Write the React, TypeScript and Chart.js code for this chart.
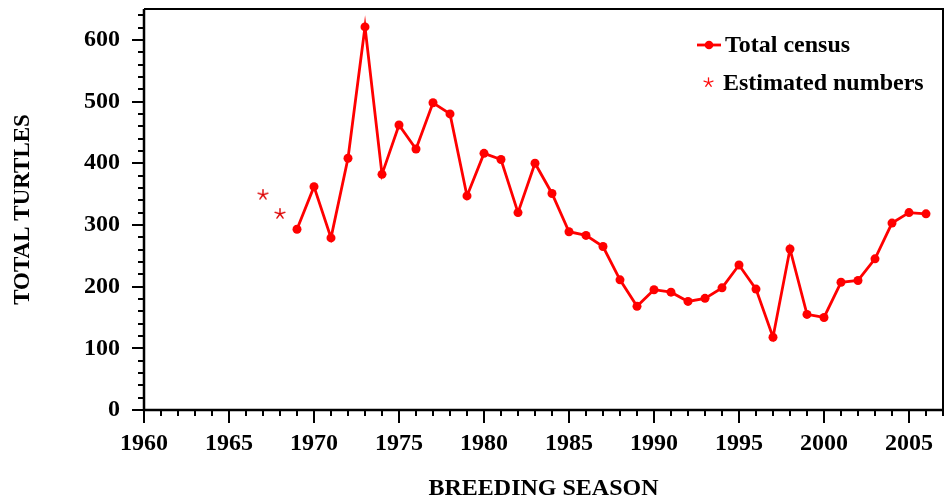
import React, { useEffect, useRef } from "react";
import { Chart, registerables } from "chart.js";

Chart.register(...registerables);

const censusYears = [1969, 1970, 1971, 1972, 1973, 1974, 1975, 1976, 1977, 1978, 1979, 1980, 1981, 1982, 1983, 1984, 1985, 1986, 1987, 1988, 1989, 1990, 1991, 1992, 1993, 1994, 1995, 1996, 1997, 1998, 1999, 2000, 2001, 2002, 2003, 2004, 2005, 2006];
const censusTotals = [293, 362, 279, 408, 621, 382, 462, 423, 498, 480, 347, 416, 406, 320, 400, 351, 289, 283, 265, 211, 168, 195, 191, 176, 181, 198, 235, 196, 118, 261, 155, 150, 207, 210, 245, 303, 320, 318];
const estimatedYears = [1967, 1968];
const estimatedTotals = [349, 318];

const X_MIN = 1960;
const X_MAX = 2007;
const Y_MIN = 0;
const Y_MAX = 650;
const xTickStep = 5;
const yTickStep = 100;
const xMinorStep = 1;
const yMinorStep = 20;

const legendLabels = ["Total census", "Estimated numbers"];
const xTitle = "BREEDING SEASON";
const yTitle = "TOTAL TURTLES";

const FONT = "'Liberation Serif', 'Times New Roman', serif";

function makeStar(color: string, size: number, lw: number): HTMLCanvasElement {
  const c = document.createElement("canvas");
  c.width = size;
  c.height = size;
  const g = c.getContext("2d")!;
  g.strokeStyle = color;
  g.lineWidth = lw;
  g.lineCap = "round";
  const cx = size / 2;
  const cy = size / 2;
  const r = size / 2 - 0.8;
  for (let i = 0; i < 5; i++) {
    const ang = -Math.PI / 2 + (i * 2 * Math.PI) / 5;
    g.beginPath();
    g.moveTo(cx, cy);
    g.lineTo(cx + r * Math.cos(ang), cy + r * Math.sin(ang));
    g.stroke();
  }
  return c;
}

const framePlugin = {
  id: "frameTicks",
  afterDraw(chart: any) {
    const { ctx, chartArea: a, scales } = chart;
    const x = scales.x;
    const y = scales.y;
    ctx.save();
    ctx.strokeStyle = "#000";
    ctx.lineCap = "butt";
    ctx.lineWidth = 2;
    ctx.beginPath();
    ctx.moveTo(a.left, a.top);
    ctx.lineTo(a.right, a.top);
    ctx.lineTo(a.right, a.bottom);
    ctx.stroke();
    ctx.lineWidth = 2.5;
    ctx.beginPath();
    ctx.moveTo(a.left, a.top);
    ctx.lineTo(a.left, a.bottom);
    ctx.lineTo(a.right, a.bottom);
    ctx.stroke();
    ctx.lineWidth = 2;
    for (let v = X_MIN; v <= X_MAX; v += xMinorStep) {
      const px = Math.round(x.getPixelForValue(v));
      const len = v % xTickStep === 0 ? 13 : 6;
      ctx.beginPath();
      ctx.moveTo(px, a.bottom);
      ctx.lineTo(px, a.bottom + len);
      ctx.stroke();
    }
    for (let v = Y_MIN; v <= Y_MAX; v += yMinorStep) {
      const py = Math.round(y.getPixelForValue(v));
      const len = v % yTickStep === 0 ? 12 : 6;
      ctx.beginPath();
      ctx.moveTo(a.left, py);
      ctx.lineTo(a.left - len, py);
      ctx.stroke();
    }
    // legend
    ctx.font = `bold 24px ${FONT}`;
    ctx.textBaseline = "middle";
    ctx.textAlign = "left";
    ctx.strokeStyle = "#ff0000";
    ctx.lineWidth = 2.8;
    ctx.beginPath();
    ctx.moveTo(697, 45);
    ctx.lineTo(721, 45);
    ctx.stroke();
    ctx.fillStyle = "#ff0000";
    ctx.beginPath();
    ctx.arc(709, 45, 4.3, 0, Math.PI * 2);
    ctx.fill();
    ctx.fillStyle = "#000";
    ctx.fillText(legendLabels[0], 725, 46);
    ctx.drawImage(makeStar("#ff1010", 11, 1.3), 703, 77);
    ctx.fillText(legendLabels[1], 723, 84);
    ctx.restore();
  },
};

export default function App() {
  const ref = useRef<HTMLCanvasElement | null>(null);
  useEffect(() => {
    document.body.style.margin = "0";
    const canvas = ref.current!;
    const starImg = makeStar("#dd0000", 12, 1.4);
    const chart = new Chart(canvas, {
      type: "scatter",
      data: {
        datasets: [
          {
            label: legendLabels[0],
            data: censusYears.map((yr, i) => ({ x: yr, y: censusTotals[i] })),
            showLine: true,
            borderColor: "#ff0000",
            backgroundColor: "#ff0000",
            borderWidth: 2.8,
            pointRadius: 4.5,
            pointHoverRadius: 4.5,
            pointBorderWidth: 0,
            tension: 0,
          },
          {
            label: legendLabels[1],
            data: estimatedYears.map((yr, i) => ({ x: yr, y: estimatedTotals[i] })),
            showLine: false,
            pointStyle: starImg as any,
            pointRadius: 6,
          },
        ],
      },
      options: {
        animation: false,
        responsive: false,
        layout: { autoPadding: false, padding: { top: 9, right: 2, left: 0, bottom: 0 } },
        plugins: { legend: { display: false }, tooltip: { enabled: false } },
        scales: {
          x: {
            type: "linear",
            min: X_MIN,
            max: X_MAX,
            grid: { display: false, drawTicks: true, tickLength: 13 },
            border: { display: false },
            afterFit: (s: any) => {
              s.height = 91;
              s.paddingLeft = 0;
              s.paddingRight = 0;
            },
            ticks: {
              stepSize: xTickStep,
              includeBounds: false,
              autoSkip: false,
              maxRotation: 0,
              padding: 6,
              color: "#000",
              font: { family: FONT, size: 24, weight: "bold" },
              callback: (v: any) => String(v),
            },
            title: {
              display: true,
              text: xTitle,
              color: "#000",
              font: { family: FONT, size: 24, weight: "bold", lineHeight: 1 },
              padding: { top: 0, bottom: 0 },
            },
          },
          y: {
            type: "linear",
            min: Y_MIN,
            max: Y_MAX,
            grid: { display: false, drawTicks: true, tickLength: 12 },
            border: { display: false },
            afterFit: (s: any) => {
              s.width = 144;
              s.paddingTop = 0;
              s.paddingBottom = 0;
            },
            ticks: {
              stepSize: yTickStep,
              includeBounds: false,
              padding: 12,
              color: "#000",
              font: { family: FONT, size: 24, weight: "bold" },
              callback: (v: any) => String(v),
            },
            title: {
              display: true,
              text: yTitle,
              color: "#000",
              font: { family: FONT, size: 23, weight: "bold", lineHeight: 1 },
              padding: { top: 12, bottom: 0 },
            },
          },
        },
      },
      plugins: [framePlugin],
    });
    return () => chart.destroy();
  }, []);
  return (
    <div style={{ width: 945, height: 501 }}>
      <canvas ref={ref} width={945} height={501} style={{ display: "block" }} />
    </div>
  );
}
